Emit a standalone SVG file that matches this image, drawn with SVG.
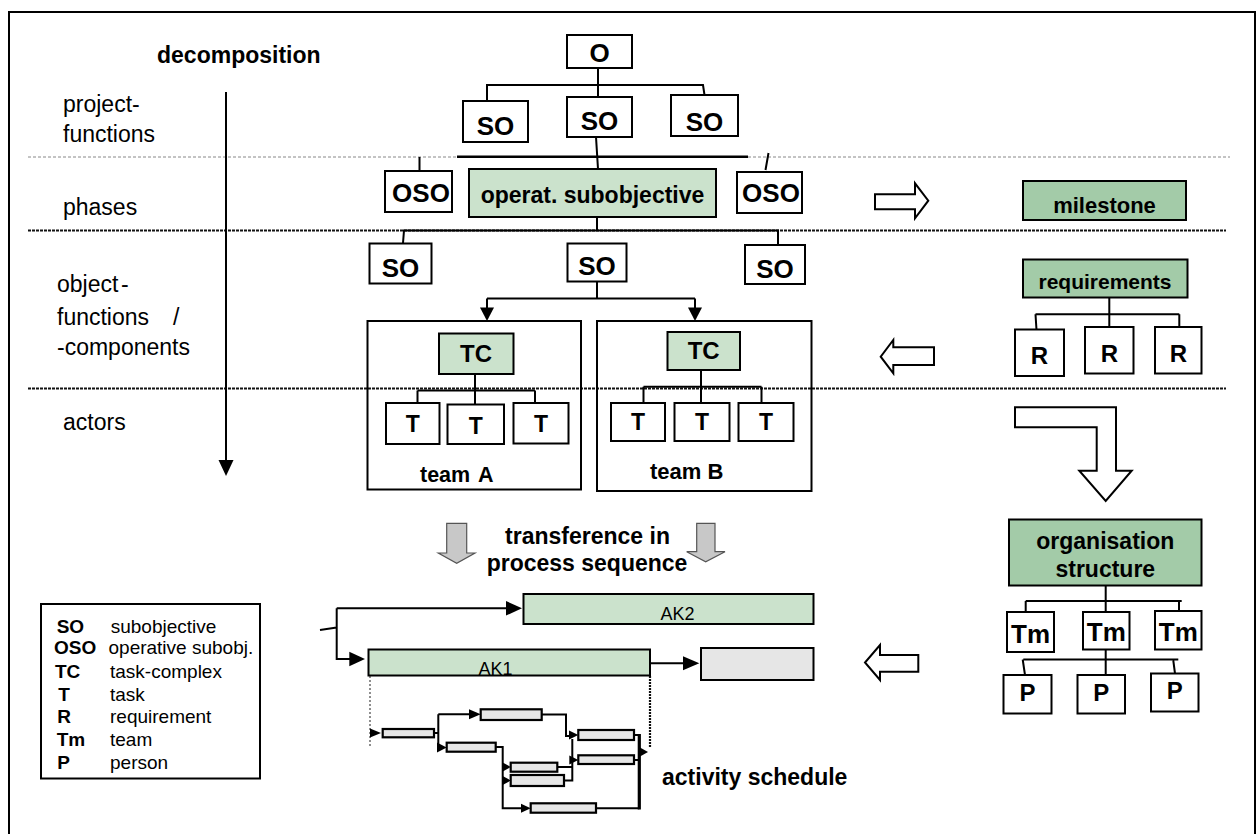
<svg xmlns="http://www.w3.org/2000/svg" width="1257" height="834" viewBox="0 0 1257 834">
<style>
.bx{fill:#fff;stroke:#000;stroke-width:2}
.frm{fill:none;stroke:#000;stroke-width:2}
.g1{fill:#cbe2cc;stroke:#000;stroke-width:2}
.g2{fill:#a3cba8;stroke:#000;stroke-width:2}
.gy{fill:#e6e6e6;stroke:#000;stroke-width:2}
.bar{fill:#e6e6e6;stroke:#000;stroke-width:2.2}
.ln{fill:none;stroke:#000;stroke-width:2}
.ah{fill:#000;stroke:none}
.hol{fill:#fff;stroke:#000;stroke-width:2;stroke-linejoin:miter}
.gar{fill:#c8c8c8;stroke:#555;stroke-width:1.2}
.t{font-family:"Liberation Sans",Arial,sans-serif;fill:#000}
.b{font-family:"Liberation Sans",Arial,sans-serif;font-weight:bold;fill:#000}
.m{text-anchor:middle}
.sep1{stroke:#888;stroke-width:1;stroke-dasharray:3 2;fill:none}
.sep2{stroke:#111;stroke-width:2.2;stroke-dasharray:3 1;fill:none}
</style>

<!-- frame -->
<path d="M9,840 V12 H1255 V840" fill="none" stroke="#000" stroke-width="2"/>

<!-- separators -->
<g id="separators">
<line class="sep1" x1="28" y1="157" x2="1230" y2="157"/>
<line class="sep2" x1="28" y1="230.5" x2="1226" y2="230.5"/>
<line class="sep2" x1="28" y1="388.5" x2="1226" y2="388.5"/>
</g>

<!-- left labels -->
<g id="labels">
<text class="b" x="157" y="63" font-size="23">decomposition</text>
<text class="t" x="63" y="112" font-size="23">project-</text>
<text class="t" x="63" y="142" font-size="23">functions</text>
<text class="t" x="63" y="215" font-size="23">phases</text>
<text class="t" x="57" y="292" font-size="23">object<tspan x="121">-</tspan></text>
<text class="t" x="57" y="325" font-size="23">functions<tspan x="173">/</tspan></text>
<text class="t" x="57" y="355" font-size="23">-components</text>
<text class="t" x="63" y="430" font-size="23">actors</text>
</g>

<!-- connectors -->
<g id="connectors">
<line class="ln" x1="226" y1="92" x2="226" y2="462"/>
<polygon class="ah" points="218.5,460 233.5,460 226,476"/>
<!-- top tree -->
<path class="ln" d="M598,68 V97 M487,101 V85 H703 L704.5,95"/>
<path class="ln" d="M596,137 L598,169"/>
<line x1="457" y1="156.7" x2="748" y2="156.7" stroke="#000" stroke-width="2.4"/>
<path class="ln" d="M419.5,157 V171 M768.5,153 L765.5,170"/>
<path class="ln" d="M597,217 V230.5 M403,230.5 H779 M404,230.5 L403,243 M778,230.5 V245"/>
<!-- SO to teams -->
<path class="ln" d="M597,282 V298.5 M487,298.5 H695 M487,298.5 V309 M695,298.5 V309"/>
<polygon class="ah" points="480,307.5 494,307.5 487,321"/>
<polygon class="ah" points="688,307.5 702,307.5 695,321"/>
<!-- team A tree -->
<path class="ln" d="M475,374 V404 M417.5,390.5 H535 M417.5,390.5 V403 M535,390.5 V403"/>
<!-- team B tree -->
<path class="ln" d="M701,370 V403 M643.5,386.7 H761.5 M643.5,386.7 V403 M761.5,386.7 V403"/>
<!-- requirements tree -->
<path class="ln" d="M1109.3,297 V327 M1035.5,314.3 H1179.3 M1035.5,314.3 L1036.5,330 M1179.3,314.3 V327"/>
<!-- organisation tree -->
<path class="ln" d="M1105.7,586 V612 M1025.7,601 H1181.7 M1025.7,601 V612 M1179,601 V611"/>
<path class="ln" d="M1105.7,650 V675 M1023.3,659.5 H1178.3 M1022.7,659.5 L1025,675 M1173.3,660.5 L1175,673.5"/>
<!-- hollow arrows -->
<polygon class="hol" points="875,194.3 915,194.3 915,183.3 928.3,200.7 915,218.3 915,209.3 875,209.3"/>
<polygon class="hol" points="934,347.3 893.3,347.3 893.3,340 880.7,356.7 893.3,373.3 893.3,365 934,365"/>
<polygon class="hol" points="1015,407.3 1116,407.3 1116,470.7 1131.7,470.7 1105.7,501 1079.3,470.7 1096.7,470.7 1096.7,427.3 1015,427.3"/>
<polygon class="hol" points="918.3,655 880,655 880,645 865,662.5 880,680 880,671.7 918.3,671.7"/>
<!-- gray transference arrows -->
<polygon class="gar" points="446.7,523.3 466.7,523.3 466.7,553 475,553 456.7,563.3 438.3,553 446.7,553"/>
<polygon class="gar" points="696.7,523.3 715,523.3 715,551.7 725,551.7 705.7,561.7 686.7,551.7 696.7,551.7"/>
<!-- AK split -->
<path class="ln" d="M336.7,608.3 H508 M336.7,608.3 V659 H352 M320,630 L336.7,627.5"/>
<polygon class="ah" points="506,601 522,608.3 506,615.6"/>
<polygon class="ah" points="349.3,651.7 365,659 349.3,666.3"/>
<path class="ln" d="M650,663.3 H685"/>
<polygon class="ah" points="683,656.3 699.3,663.3 683,670.3"/>
<line x1="370" y1="676" x2="370" y2="747" stroke="#444" stroke-width="1.2" stroke-dasharray="2 2"/>
<line x1="650" y1="676" x2="650" y2="747" stroke="#111" stroke-width="2.2" stroke-dasharray="2 1"/>
<!-- schedule connectors -->
<path class="ln" d="M434,733 H438.3 M438.3,714.3 V747.5 M438.3,714.3 H470"/>
<polygon class="ah" points="370,728.5 381,733 370,737.5"/>
<polygon class="ah" points="469,709.3 480.7,714.3 469,719.3"/>
<polygon class="ah" points="437,742.5 446.7,747.5 437,752.5"/>
<path class="ln" d="M541.7,714.5 H566 V736 H570"/>
<polygon class="ah" points="569,730.5 578.3,735 569,739.5"/>
<path class="ln" d="M495.7,747 H502.7 V808.3 H522"/>
<polygon class="ah" points="502.7,762.5 510.7,767 502.7,771.5"/>
<polygon class="ah" points="502.7,776 510.7,780.5 502.7,785"/>
<polygon class="ah" points="521,803.8 530.7,808.3 521,812.8"/>
<path class="ln" d="M557.3,767 H572.3 M564,780.5 H572.3 V739 M572.3,760 H570"/>
<polygon class="ah" points="569.3,755.5 578.3,760 569.3,764.5"/>
<path class="ln" d="M634,735 H639.3 M634,760 H639.3 M596,808.3 H639.3"/>
<line x1="639.3" y1="734" x2="639.3" y2="809.5" stroke="#000" stroke-width="3.2"/>
<polygon class="ah" points="640,747.5 648,752 640,756.5"/>
</g>

<!-- nodes -->
<g id="node-O"><rect class="bx" x="567" y="35" width="65" height="33"/><text class="b m" x="599.5" y="61.5" font-size="26">O</text></g>
<g id="node-SO1"><rect class="bx" x="463" y="101" width="65" height="41"/><text class="b m" x="495.5" y="135" font-size="26">SO</text></g>
<g id="node-SO2"><rect class="bx" x="567" y="97" width="65" height="40"/><text class="b m" x="599.5" y="130" font-size="26">SO</text></g>
<g id="node-SO3"><rect class="bx" x="671" y="95" width="67" height="41"/><text class="b m" x="704.5" y="131" font-size="26">SO</text></g>
<g id="node-OSO1"><rect class="bx" x="385" y="171" width="67" height="41"/><text class="b m" x="421" y="201.5" font-size="26">OSO</text></g>
<g id="node-operat"><rect class="g1" x="469" y="169" width="247" height="48"/><text class="b m" x="592.5" y="203" font-size="23">operat. subobjective</text></g>
<g id="node-OSO2"><rect class="bx" x="737" y="172" width="65" height="41"/><text class="b m" x="771" y="201.5" font-size="26">OSO</text></g>
<g id="node-SO4"><rect class="bx" x="369.5" y="243.5" width="62" height="40"/><text class="b m" x="400.5" y="276.5" font-size="26">SO</text></g>
<g id="node-SO5"><rect class="bx" x="567.5" y="243.5" width="59" height="38"/><text class="b m" x="597" y="275" font-size="26">SO</text></g>
<g id="node-SO6"><rect class="bx" x="745" y="245" width="60" height="39"/><text class="b m" x="775" y="278" font-size="26">SO</text></g>

<g id="team-A">
<rect class="frm" x="367.5" y="321" width="213.5" height="168.5"/>
<rect class="g1" x="439" y="333.5" width="74.5" height="40.5"/><text class="b m" x="476" y="362" font-size="24">TC</text>
<rect class="bx" x="386" y="403" width="53.5" height="41"/><text class="b m" x="412.7" y="432" font-size="23">T</text>
<rect class="bx" x="447.5" y="404.5" width="56.5" height="39.5"/><text class="b m" x="475.7" y="434" font-size="23">T</text>
<rect class="bx" x="513.5" y="403" width="55" height="40.5"/><text class="b m" x="541" y="432" font-size="23">T</text>
<text class="b" x="420" y="482" font-size="21.5">team<tspan x="478">A</tspan></text>
</g>
<g id="team-B">
<rect class="frm" x="597" y="321" width="214.5" height="170"/>
<rect class="g1" x="667.5" y="332" width="72.5" height="38"/><text class="b m" x="703.7" y="358.5" font-size="24">TC</text>
<rect class="bx" x="611" y="403" width="54" height="38"/><text class="b m" x="638" y="430" font-size="23">T</text>
<rect class="bx" x="674.5" y="403" width="55" height="38"/><text class="b m" x="702" y="430" font-size="23">T</text>
<rect class="bx" x="738.5" y="403" width="55" height="38"/><text class="b m" x="766" y="430" font-size="23">T</text>
<text class="b" x="650" y="478.5" font-size="22">team B</text>
</g>

<g id="node-milestone"><rect class="g2" x="1023" y="181" width="163" height="39"/><text class="b m" x="1104.5" y="213" font-size="22">milestone</text></g>
<g id="node-requirements"><rect class="g2" x="1023" y="259.5" width="164.5" height="38"/><text class="b m" x="1105" y="288.5" font-size="21">requirements</text></g>
<g id="node-R1"><rect class="bx" x="1015" y="329.5" width="49" height="46.5"/><text class="b m" x="1039.5" y="364" font-size="24">R</text></g>
<g id="node-R2"><rect class="bx" x="1085" y="327" width="48.5" height="46.5"/><text class="b m" x="1109.3" y="362" font-size="24">R</text></g>
<g id="node-R3"><rect class="bx" x="1155" y="327" width="46.5" height="46.5"/><text class="b m" x="1178.3" y="362" font-size="24">R</text></g>

<g id="node-org"><rect class="g2" x="1009" y="519.5" width="192.5" height="66"/><text class="b m" x="1105.3" y="548.5" font-size="23">organisation</text><text class="b m" x="1105.3" y="577" font-size="23">structure</text></g>
<g id="node-Tm1"><rect class="bx" x="1007" y="612" width="47" height="40"/><text class="b m" x="1030.5" y="643" font-size="26">Tm</text></g>
<g id="node-Tm2"><rect class="bx" x="1083" y="612" width="46.5" height="37.5"/><text class="b m" x="1106.3" y="640.5" font-size="26">Tm</text></g>
<g id="node-Tm3"><rect class="bx" x="1155" y="611" width="46.5" height="38.5"/><text class="b m" x="1178.3" y="640.5" font-size="26">Tm</text></g>
<g id="node-P1"><rect class="bx" x="1003.5" y="675" width="48" height="38.5"/><text class="b m" x="1027.5" y="700.5" font-size="24">P</text></g>
<g id="node-P2"><rect class="bx" x="1077.5" y="675" width="47.5" height="38.5"/><text class="b m" x="1101.3" y="700.5" font-size="24">P</text></g>
<g id="node-P3"><rect class="bx" x="1151" y="673.5" width="47.5" height="38"/><text class="b m" x="1174.7" y="698.5" font-size="24">P</text></g>

<g id="transference"><text class="b m" x="587.5" y="543.5" font-size="23">transference in</text><text class="b m" x="587" y="571" font-size="23">process sequence</text></g>

<g id="node-AK2"><rect class="g1" x="523.5" y="594" width="290" height="30"/><text class="t m" x="677.5" y="620" font-size="18">AK2</text></g>
<g id="node-AK1"><rect class="g1" x="368.5" y="649.5" width="281.5" height="26"/><text class="t m" x="495.5" y="675" font-size="18">AK1</text></g>
<g id="node-next"><rect class="gy" x="701" y="648" width="112.5" height="32"/></g>

<g id="schedule">
<rect class="bar" x="382.7" y="729" width="51.3" height="8.3"/>
<rect class="bar" x="480.7" y="709.3" width="61" height="10.7"/>
<rect class="bar" x="446.7" y="742.7" width="49" height="9"/>
<rect class="bar" x="578.3" y="730" width="55.7" height="10"/>
<rect class="bar" x="578.3" y="755.3" width="55.7" height="8.7"/>
<rect class="bar" x="510.7" y="762.7" width="46.6" height="9"/>
<rect class="bar" x="510.7" y="775" width="53.3" height="11"/>
<rect class="bar" x="530.7" y="803.3" width="65.3" height="9.4"/>
<text class="b" x="662" y="785" font-size="23">activity schedule</text>
</g>

<g id="legend">
<rect class="bx" x="41" y="604" width="219" height="174.5"/>
<g class="b" font-size="19">
<text x="56.7" y="632.5">SO</text>
<text x="54" y="654">OSO</text>
<text x="55" y="678">TC</text>
<text x="58.3" y="700.5">T</text>
<text x="57.3" y="723">R</text>
<text x="56.7" y="746">Tm</text>
<text x="57.3" y="768.5">P</text>
</g>
<g class="t" font-size="19">
<text x="110.7" y="632.5">subobjective</text>
<text x="108.5" y="654">operative subobj.</text>
<text x="110" y="678">task-complex</text>
<text x="110" y="700.5">task</text>
<text x="110" y="723">requirement</text>
<text x="110" y="746">team</text>
<text x="110" y="768.5">person</text>
</g>
</g>
</svg>
